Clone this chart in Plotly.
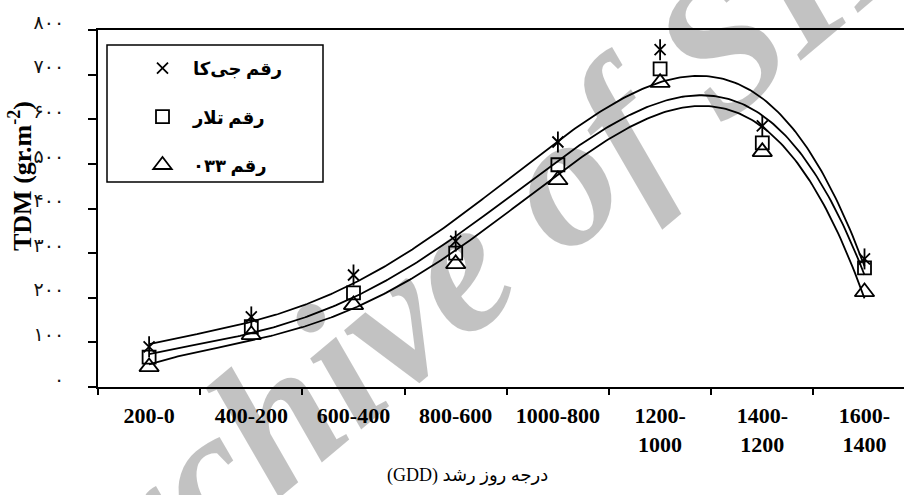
import numpy as np
import plotly.graph_objects as go

# GDD intervals (x categories)
categories = ["200-0", "400-200", "600-400", "800-600", "1000-800",
              "1200-<br>1000", "1400-<br>1200", "1600-<br>1400"]

# Total dry matter (gr.m-2) per cultivar
jk_values = [90, 157, 251, 327, 549, 756, 585, 287]
talar_values = [67, 135, 211, 300, 498, 713, 547, 267]
r033_values = [45, 117, 184, 276, 464, 682, 527, 213]

series_names = ["رقم جی‌کا", "رقم تلار", "رقم ۰۳۳"]

y_tick_values = [0, 100, 200, 300, 400, 500, 600, 700, 800]
y_tick_labels = ["۰", "۱۰۰", "۲۰۰", "۳۰۰", "۴۰۰", "۵۰۰", "۶۰۰", "۷۰۰", "۸۰۰"]

x_title = "\u202bدرجه روز رشد (GDD)\u202c"
y_title = "<b>TDM (gr.m<sup>-2</sup>)</b>"
watermark = "Archive of SID"

SERIF = "Liberation Serif, Times New Roman, DejaVu Sans"
W, H = 904, 495
ML, MR, MT, MB = 98, 0, 30, 108
PW, PH = W - ML - MR, H - MT - MB


def px_x(px):
    return (px - ML) / PW


def px_y(py):
    return (H - MB - py) / PH


pos = np.arange(len(categories))
fine = np.linspace(pos[0], pos[-1], 300)

fig = go.Figure()

# polynomial trend curves
for vals in (jk_values, talar_values, r033_values):
    coef = np.polyfit(pos, vals, 4)
    fig.add_trace(go.Scatter(
        x=fine, y=np.polyval(coef, fine), mode="lines",
        line=dict(color="black", width=1.8), showlegend=False, hoverinfo="skip"))

# markers
fig.add_trace(go.Scatter(
    x=pos, y=jk_values, mode="markers", name=series_names[0], legendgroup="a",
    marker=dict(symbol="x-thin-open", size=11, color="black",
                line=dict(color="black", width=1.8))))
fig.add_trace(go.Scatter(
    x=pos, y=jk_values, mode="markers", showlegend=False, legendgroup="a",
    marker=dict(symbol="line-ns-open", size=15, color="black",
                line=dict(color="black", width=1.8))))
fig.add_trace(go.Scatter(
    x=pos, y=talar_values, mode="markers", name=series_names[1], legendgroup="b",
    marker=dict(symbol="square-open", size=13, color="black",
                line=dict(color="black", width=1.8))))
fig.add_trace(go.Scatter(
    x=pos, y=r033_values, mode="markers", name=series_names[2], legendgroup="c",
    marker=dict(symbol="triangle-up-open", size=17, color="black",
                line=dict(color="black", width=1.8))))

cat_w = 102.2
fig.update_xaxes(
    range=[-0.5, -0.5 + PW / cat_w],
    tickmode="array", tickvals=pos, ticktext=categories,
    ticks="", showgrid=False, zeroline=False,
    showline=True, linecolor="black", linewidth=2, mirror=True,
    tickfont=dict(family=SERIF, size=22, color="black", weight="bold"),
    ticklabelstandoff=8,
    minor=dict(tickmode="array", tickvals=[p - 0.5 for p in range(len(categories) + 1)],
               ticks="outside", ticklen=6, tickwidth=1.5, tickcolor="black", showgrid=False),
)
fig.update_yaxes(
    range=[0, 800], tickmode="array", tickvals=y_tick_values, ticktext=y_tick_labels,
    ticks="outside", ticklen=8, tickwidth=1.5, tickcolor="black",
    showgrid=False, zeroline=False,
    showline=True, linecolor="black", linewidth=2,
    tickfont=dict(family=SERIF, size=19, color="#111"),
    ticklabelstandoff=20, ticklabelshift=-8,
)

fig.add_shape(type="rect", xref="paper", yref="paper",
              x0=px_x(107), x1=px_x(323), y0=px_y(182), y1=px_y(45),
              line=dict(color="black", width=1.5), fillcolor="rgba(0,0,0,0)")

fig.add_annotation(text=y_title, xref="paper", yref="paper",
                   x=px_x(20), y=px_y(176), textangle=-90, showarrow=False,
                   xanchor="center", yanchor="middle",
                   font=dict(family=SERIF, size=26, color="black"))
fig.add_annotation(text=x_title, xref="paper", yref="paper",
                   x=px_x(467), y=px_y(475), showarrow=False,
                   xanchor="center", yanchor="middle",
                   font=dict(family=SERIF, size=18, color="black"))
fig.add_annotation(text=watermark, xref="paper", yref="paper",
                   x=px_x(466), y=px_y(258), textangle=-40, showarrow=False,
                   xanchor="center", yanchor="middle",
                   font=dict(family=SERIF, size=190, color="rgba(0,0,0,0.24)",
                             weight="bold", style="italic"))

fig.update_layout(
    width=W, height=H, margin=dict(l=ML, r=MR, t=MT, b=MB),
    paper_bgcolor="white", plot_bgcolor="white",
    legend=dict(x=px_x(132), y=px_y(50), xanchor="left", yanchor="top",
                bgcolor="rgba(0,0,0,0)", borderwidth=0, tracegroupgap=22,
                itemwidth=51,
                font=dict(family=SERIF, size=18, color="black", weight="bold")),
)

fig.write_html("out.html")
